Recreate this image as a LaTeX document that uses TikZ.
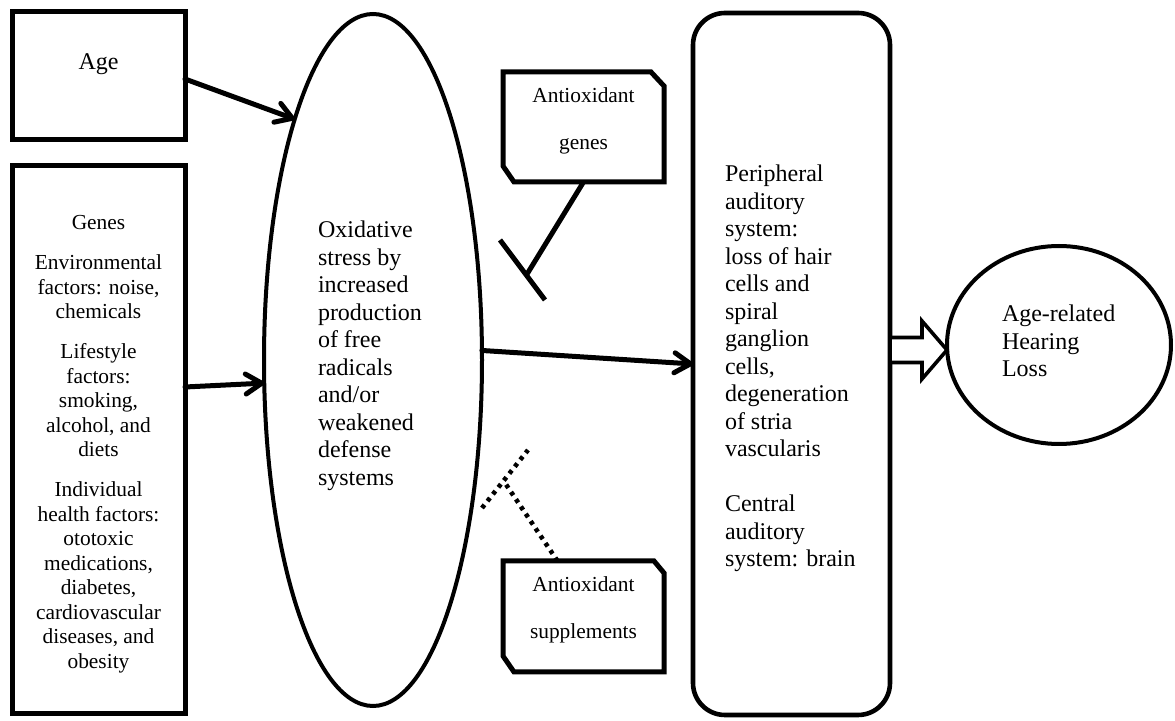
\documentclass[tikz,border=0pt]{standalone}
\usepackage{fontspec}
\setmainfont{Liberation Serif}
\usetikzlibrary{shapes.geometric,arrows.meta,calc}
\newcommand\fbig{\fontsize{12pt}{13.75pt}\selectfont}
\newcommand\fsm{\fontsize{10.7pt}{12.25pt}\selectfont}
\begin{document}
\begin{tikzpicture}[x=0.5pt,y=-0.5pt,
  shapebox/.style={draw, line width=2.5pt, inner sep=0pt, outer sep=0pt},
  plainbox/.style={inner sep=0pt, outer sep=0pt},
  txt/.style={inner sep=0pt, outer sep=0pt, anchor=base},
  txtl/.style={inner sep=0pt, outer sep=0pt, anchor=base west},
  outl/.style={line width=2.5pt, line join=miter},
  conn/.style={line width=2.5pt, line cap=round, line join=round},
  arr/.style={conn, -{Straight Barb[length=8pt,width=10pt,round]}},
  dots/.style={line width=2.3pt, dash pattern=on 2pt off 2.4pt},
  hollow/.style={draw, line width=1.8pt, fill=white, line join=miter}]
\useasboundingbox (0,0) rectangle (1175,721);

% shapes
\node[shapebox, minimum width=86.5pt, minimum height=64pt] (age) at (98.5,76) {};
\node[shapebox, minimum width=86.5pt, minimum height=274pt] (gen) at (98.5,440) {};
\node[shapebox, ellipse, line width=2pt, minimum width=109pt, minimum height=346pt] (ox) at (373,360) {};
\node[shapebox, line width=2.3pt, rounded corners=16pt, minimum width=98.5pt, minimum height=351pt] (rb) at (791.5,364) {};
\node[shapebox, ellipse, line width=2pt, minimum width=112pt, minimum height=99pt] (hl) at (1059,345) {};
\node[plainbox, minimum width=80.5pt, minimum height=55pt] (ag) at (583.5,127) {};
\node[plainbox, minimum width=80.5pt, minimum height=55.5pt] (sp) at (583.5,616.5) {};

% chamfered boxes
\draw[outl] (ag.north west) -- ([xshift=-6.5pt]ag.north east) -- ([yshift=-7pt]ag.north east)
  -- (ag.south east) -- ([xshift=5.5pt]ag.south west) -- ([yshift=8pt]ag.south west) -- cycle;
\draw[outl] (sp.north west) -- ([xshift=-5pt]sp.north east) -- ([yshift=-6pt]sp.north east)
  -- (sp.south east) -- ([xshift=5.5pt]sp.south west) -- ([yshift=8pt]sp.south west) -- cycle;

% texts
\node[txt] (ageT) at (98.5,70) {\fbig Age};
\node[txt] (genT) at (98.5,230) {\parbox[t]{84pt}{\fsm\centering Genes\\[7.75pt]
  Environmental\\ factors: noise,\\ chemicals\\[7.75pt]
  Lifestyle\\ factors:\\ smoking,\\ alcohol, and\\ diets\\[7.75pt]
  Individual\\ health factors:\\ ototoxic\\ medications,\\ diabetes,\\ cardiovascular\\ diseases, and\\ obesity}};
\node[txtl] (oxT) at (318,238) {\parbox[t]{90pt}{\fbig\raggedright Oxidative\\ stress by\\ increased\\ production\\ of free\\ radicals\\ and/or\\ weakened\\ defense\\ systems}};
\node[txtl] (rbT) at (725,182) {\parbox[t]{80pt}{\fbig\raggedright Peripheral\\ auditory\\ system:\\ loss of hair\\ cells and\\ spiral\\ ganglion\\ cells,\\ degeneration\\ of stria\\ vascularis\\[13.75pt] Central\\ auditory\\ system: brain}};
\node[txtl] (hlT) at (1002,322) {\parbox[t]{80pt}{\fbig\raggedright Age-related\\ Hearing\\ Loss}};
\node[txt] (agT) at (583.5,103) {\parbox[t]{78pt}{\fsm\centering Antioxidant\\[11.25pt] genes}};
\node[txt] (spT) at (583.5,592) {\parbox[t]{78pt}{\fsm\centering Antioxidant\\[11.25pt] supplements}};

% arrows
\draw[arr] (age.east |- 0,79) -- (ox.108);
\draw[arr] ([yshift=26.5pt]gen.east) -- (ox.192);
\draw[arr] (ox.5) -- (rb.west);

% inhibition: antioxidant genes
\coordinate (gj) at (526.5,275);
\coordinate (gb1) at (500,240);
\coordinate (gb2) at (545,300);
\draw[conn, line cap=butt] (ag.south) -- (gj);
\draw[conn, line cap=butt] (gb1) -- (gb2);

% inhibition: antioxidant supplements (dotted)
\coordinate (sj) at (505,483);
\coordinate (sb1) at (482,508);
\coordinate (sb2) at (528,450);
\draw[dots] ([xshift=-13pt]sp.north) -- (sj);
\draw[dots] (sb1) -- (sb2);

% hollow block arrow
\coordinate (T) at ([yshift=-2.5pt]hl.west);
\draw[hollow] (rb.east |- T) ++(0,-12.5) -- ++(32,0) -- ++(0,-16.5) -- (T)
  -- ++(-25,29) -- ++(0,-16.5) -- ++(-32,0) -- cycle;
\end{tikzpicture}
\end{document}
